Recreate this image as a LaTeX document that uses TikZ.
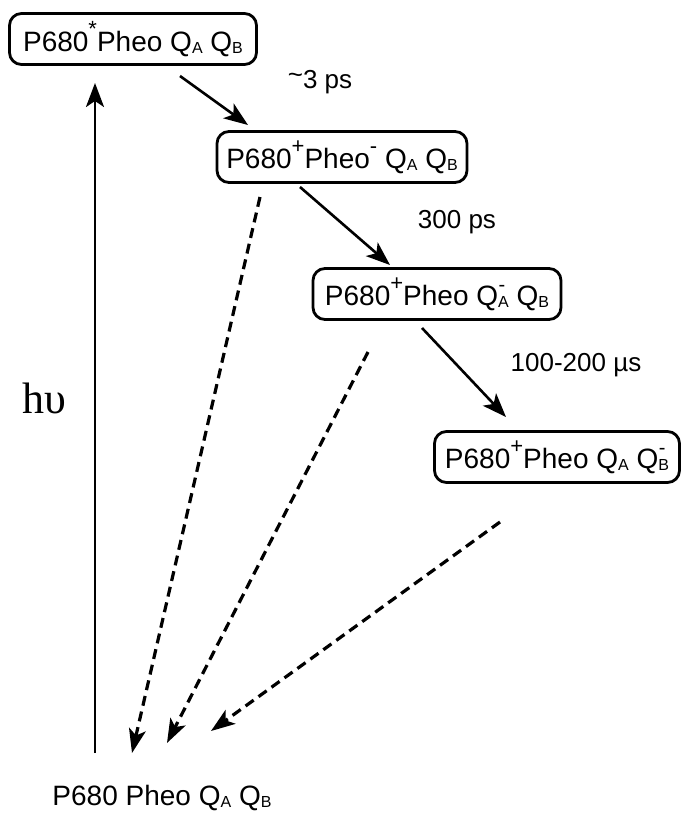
\documentclass[tikz,border=0pt]{standalone}
\usepackage{fontspec}
\setmainfont{Liberation Sans}
\newfontfamily\tnrfont{Liberation Serif}
\usetikzlibrary{arrows.meta}
\newcommand\supx[1]{\raisebox{1.0ex}{\fontsize{22}{22}\selectfont #1}}
\newcommand\subx[1]{\raisebox{-0.15ex}{\fontsize{16}{16}\selectfont #1}}
\newcommand\subsupx[2]{\makebox[0pt][l]{\raisebox{0.95ex}{\fontsize{20}{20}\selectfont\hspace{0.5pt}#2}}\subx{#1}}
\tikzset{
  state/.style={draw, line width=2.8pt, rounded corners=12pt, minimum height=51pt,
    inner xsep=4pt, font=\fontsize{28}{30}\selectfont},
  solidarr/.style={line width=2.6pt, -{Stealth[length=24pt,width=18pt,inset=6pt]}},
  dasharr/.style={line width=3.2pt, dash pattern=on 10pt off 6pt,
    -{Stealth[length=24pt,width=17pt,inset=6pt]}},
  timelbl/.style={font=\fontsize{26}{28}\selectfont, inner sep=0pt},
}
\begin{document}
\begin{tikzpicture}[x=1pt,y=-1pt]
\useasboundingbox (0,0) rectangle (684,814);
\node[state, minimum width=247pt] (b1) at (133,39) {P680\supx{*}Pheo Q\subx{A} Q\subx{B}};
\node[state, minimum width=250pt] (b2) at (342,157) {P680\supx{+}Pheo\supx{-} Q\subx{A} Q\subx{B}};
\node[state, minimum width=248pt] (b3) at (437,294) {P680\supx{+}Pheo Q\subsupx{A}{-} Q\subx{B}};
\node[state, minimum width=245pt] (b4) at (557,457) {P680\supx{+}Pheo Q\subx{A} Q\subsupx{B}{-}};
\node[inner sep=0pt, font=\fontsize{28}{30}\selectfont] (g) at (162,798) {P680 Pheo Q\subx{A} Q\subx{B}};
\node[inner sep=0pt, font=\tnrfont\fontsize{44}{46}\selectfont] (hv) at (44,398) {hυ};
\node[timelbl] (l1) at (320,82) {\raisebox{0.35ex}{\textasciitilde}3 ps};
\node[timelbl] (l2) at (457,222) {300 ps};
\node[timelbl] (l3) at (576,365) {100-200 µs};
% connector end points
\coordinate (ups) at (95,753);
\coordinate (upe) at (95,83);
\coordinate (a1s) at (180,76);
\coordinate (a1e) at (248,125);
\coordinate (a2s) at (300,187);
\coordinate (a2e) at (390,265);
\coordinate (a3s) at (422,328);
\coordinate (a3e) at (506,417);
\coordinate (d1s) at (260,197);
\coordinate (d1e) at (132,753);
\coordinate (d2s) at (368,352);
\coordinate (d2e) at (167,743);
\coordinate (d3s) at (500,522);
\coordinate (d3e) at (211,731);
\draw[solidarr] (ups) -- (upe);
\draw[solidarr] (a1s) -- (a1e);
\draw[solidarr] (a2s) -- (a2e);
\draw[solidarr] (a3s) -- (a3e);
\draw[dasharr] (d1s) -- (d1e);
\draw[dasharr] (d2s) -- (d2e);
\draw[dasharr] (d3s) -- (d3e);
\end{tikzpicture}
\end{document}
